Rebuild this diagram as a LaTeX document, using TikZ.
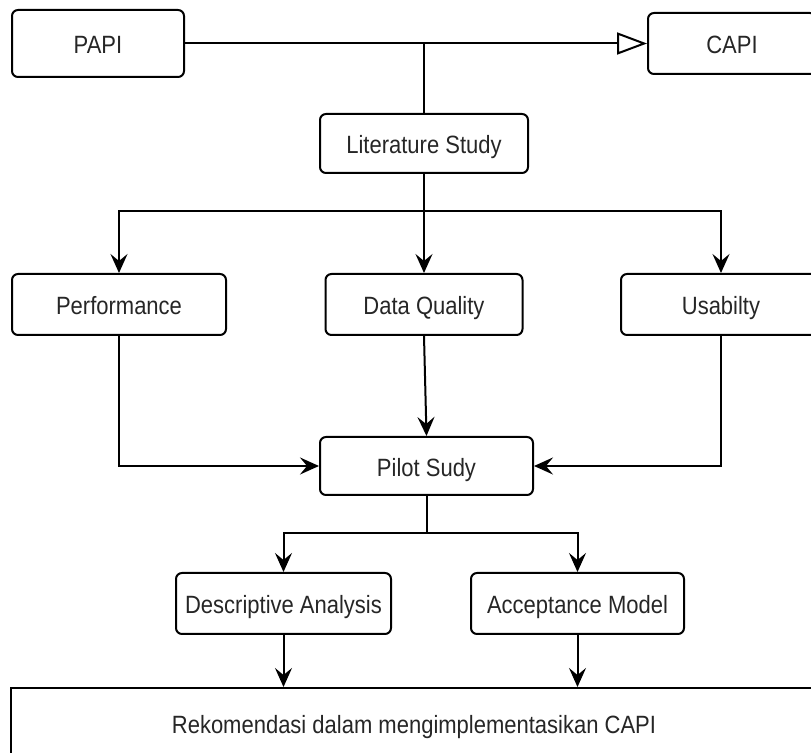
\documentclass[tikz,border=0pt]{standalone}
\usepackage{fontspec}
\setmainfont{Liberation Sans}[FakeStretch=0.88]
\usetikzlibrary{arrows.meta}

\begin{document}
\begin{tikzpicture}[x=0.5pt,y=-0.5pt,
    box/.style={draw, line width=1pt, rounded corners=3pt, inner sep=0pt,
                text height=11.5pt, text depth=1pt,
                font=\fontsize{12.5}{14}\selectfont, text=black!85},
    arr/.style={line width=1pt, -{Stealth[length=9.5pt,width=8.5pt,inset=3.5pt]}},
    lin/.style={line width=1pt}]
            \useasboundingbox (0,0) rectangle (811,753);
            \clip (0,0) rectangle (811,753);
            \node[box, minimum width=86pt, minimum height=33.5pt] (papi) at (98,43.5) {PAPI};
            \node[box, minimum width=84pt, minimum height=30.5pt] (capi) at (732,43.5) {CAPI};
            \node[box, minimum width=104pt, minimum height=29.5pt] (lit) at (424,143.5) {Literature Study};
            \node[box, minimum width=107pt, minimum height=30.5pt] (perf) at (119,304.5) {Performance};
            \node[box, minimum width=98.5pt, minimum height=30.5pt] (dq) at (424,304.5) {Data Quality};
            \node[box, minimum width=100pt, minimum height=30.5pt] (usa) at (721,304.5) {Usabilty};
            \node[box, minimum width=106.5pt, minimum height=29pt] (pilot) at (426.5,466) {Pilot Sudy};
            \node[box, minimum width=107.5pt, minimum height=30.5pt] (desc) at (283.5,603.5) {Descriptive Analysis};
            \node[box, minimum width=106.5pt, minimum height=30.5pt] (acc) at (577.5,603.5) {Acceptance Model};
            \node[box, rounded corners=0pt, minimum width=403pt, minimum height=35pt] (rek) at (414,723) {Rekomendasi dalam mengimplementasikan CAPI};
            \coordinate (split1) at (424,211);
            \coordinate (split2) at (426.5,533);
            \draw[lin, -{Triangle[open,length=15pt,width=11pt]}] (papi.east) -- (capi.west);
            \draw[lin] (lit.north) -- (lit.north |- papi.east);
            \draw[lin] (lit.south) -- (split1);
            \draw[arr] (split1) -- (dq.north);
            \draw[arr] (split1) -| (perf.north);
            \draw[arr] (split1) -| (usa.north);
            \draw[arr] (dq.south) -- (pilot.north);
            \draw[arr] (perf.south) |- (pilot.west);
            \draw[arr] (usa.south) |- (pilot.east);
            \draw[lin] (pilot.south) -- (split2);
            \draw[arr] (split2) -| (desc.north);
            \draw[arr] (split2) -| (acc.north);
            \draw[arr] (desc.south) -- (desc.south |- rek.north);
            \draw[arr] (acc.south) -- (acc.south |- rek.north);
        \end{tikzpicture}
\end{document}
